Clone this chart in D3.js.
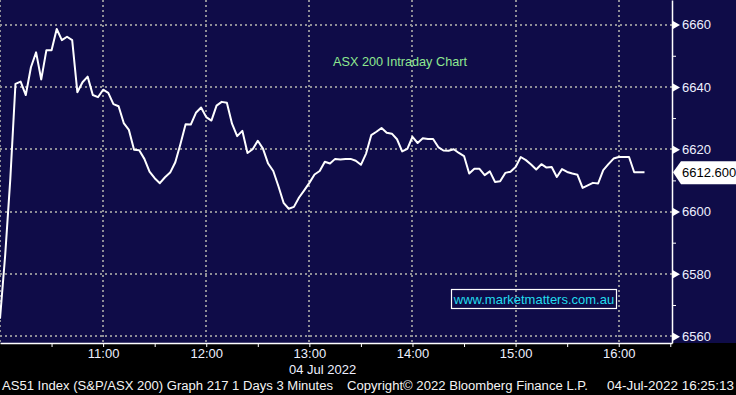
<!DOCTYPE html>
<html>
<head>
<meta charset="utf-8">
<script src="https://cdn.jsdelivr.net/npm/d3@7"></script>
<style>
  body { margin: 0; background: #000; }
  svg { display: block; font-family: "Liberation Sans", Arial, sans-serif; }
</style>
</head>
<body>
<div id="chart"></div>
<script>
//3 minute bars, 04 Jul 2022
let times = [
  "10:00","10:03","10:06","10:09","10:12","10:15","10:18","10:21","10:24","10:27",
  "10:30","10:33","10:36","10:39","10:42","10:45","10:48","10:51","10:54","10:57",
  "11:00","11:03","11:06","11:09","11:12","11:15","11:18","11:21","11:24","11:27",
  "11:30","11:33","11:36","11:39","11:42","11:45","11:48","11:51","11:54","11:57",
  "12:00","12:03","12:06","12:09","12:12","12:15","12:18","12:21","12:24","12:27",
  "12:30","12:33","12:36","12:39","12:42","12:45","12:48","12:51","12:54","12:57",
  "13:00","13:03","13:06","13:09","13:12","13:15","13:18","13:21","13:24","13:27",
  "13:30","13:33","13:36","13:39","13:42","13:45","13:48","13:51","13:54","13:57",
  "14:00","14:03","14:06","14:09","14:12","14:15","14:18","14:21","14:24","14:27",
  "14:30","14:33","14:36","14:39","14:42","14:45","14:48","14:51","14:54","14:57",
  "15:00","15:03","15:06","15:09","15:12","15:15","15:18","15:21","15:24","15:27",
  "15:30","15:33","15:36","15:39","15:42","15:45","15:48","15:51","15:54","15:57",
  "16:00","16:03","16:06","16:09","16:12","16:15"
];

let prices = [
  6565.6, 6585.9, 6610.5, 6641.0, 6641.7, 6637.4, 6646.3, 6651.1, 6642.4, 6651.8,
  6651.8, 6658.6, 6655.0, 6656.1, 6655.0, 6638.3, 6641.5, 6643.3, 6637.4, 6636.7,
  6639.1, 6638.1, 6634.5, 6633.8, 6628.4, 6626.2, 6619.8, 6619.7, 6616.9, 6612.8,
  6610.7, 6609.1, 6611.0, 6612.5, 6615.8, 6621.7, 6628.0, 6627.9, 6631.7, 6633.4,
  6630.3, 6629.2, 6634.0, 6635.2, 6634.9, 6628.2, 6624.2, 6625.9, 6618.8, 6620.0,
  6622.7, 6620.2, 6615.4, 6613.0, 6608.1, 6602.8, 6600.9, 6601.5, 6604.5, 6606.8,
  6609.2, 6611.9, 6613.0, 6616.0, 6615.4, 6616.9, 6616.7, 6616.9, 6616.9, 6616.3,
  6615.0, 6618.6, 6624.5, 6625.6, 6626.8, 6625.3, 6625.0, 6623.2, 6619.3, 6620.1,
  6624.0, 6622.0, 6623.5, 6623.3, 6623.3, 6620.7, 6619.6, 6619.5, 6620.0, 6618.8,
  6617.8, 6612.2, 6613.7, 6613.7, 6611.7, 6612.9, 6609.5, 6609.7, 6612.4, 6612.8,
  6614.3, 6617.5, 6616.5, 6615.1, 6613.5, 6615.2, 6614.1, 6614.3, 6611.1, 6613.6,
  6612.7, 6612.2, 6611.8, 6607.6, 6608.4, 6609.2, 6609.0, 6613.3, 6615.2, 6617.0,
  6617.5, 6617.5, 6617.5, 6612.6, 6612.6, 6612.6
];

//axis ticks
let hourTicks = ["10:00", "11:00", "12:00", "13:00", "14:00", "15:00", "16:00"];
let halfHourTicks = ["10:30", "11:00", "11:30", "12:00", "12:30", "13:00", "13:30",
                     "14:00", "14:30", "15:00", "15:30", "16:00", "16:30"];
let priceTicks = [6560, 6580, 6600, 6620, 6640, 6660];
let minorPriceTicks = [6570, 6590, 6610, 6630, 6650];
let lastPrice = 6612.6;

let width = 736, height = 395;
let plot = {left: 0, right: 672, top: 0, bottom: 343};

let parseTime = d3.timeParse("%H:%M");
let data = times.map(function(t, i) { return {time: parseTime(t), price: prices[i]} });

let svg = d3.select("#chart")
    .append("svg")
    .attr("width", width)
    .attr("height", height);

//backgrounds
svg.append("rect").attr("width", width).attr("height", height).attr("fill", "#000");
svg.append("rect").attr("width", width).attr("height", plot.bottom).attr("fill", "#0f0c48");

//scales
let x = d3.scaleTime()
    .domain([parseTime("10:00"), d3.timeMinute.offset(parseTime("10:00"), 391.5)])
    .range([plot.left, plot.right]);

let y = d3.scaleLinear()
    .domain([6557.8, 6667.9])
    .range([plot.bottom, plot.top]);

//dotted grid, snapped to whole pixels
let grid = svg.append("g")
    .attr("stroke", "#8e8e96")
    .attr("stroke-width", 2)
    .attr("stroke-dasharray", "2,3")
    .attr("shape-rendering", "crispEdges");

grid.selectAll(".h").data(priceTicks).enter()
    .append("line")
    .attr("x1", plot.left).attr("x2", plot.right)
    .attr("y1", function(d) { return Math.round(y(d)) })
    .attr("y2", function(d) { return Math.round(y(d)) });

grid.selectAll(".v").data(hourTicks).enter()
    .append("line")
    .attr("x1", function(d) { return Math.round(x(parseTime(d))) })
    .attr("x2", function(d) { return Math.round(x(parseTime(d))) })
    .attr("y1", plot.top).attr("y2", plot.bottom);

//price line
let line = d3.line()
    .x(function(d) { return x(d.time) })
    .y(function(d) { return y(d.price) });

svg.append("path")
    .datum(data)
    .attr("fill", "none")
    .attr("stroke", "#fff")
    .attr("stroke-width", 2)
    .attr("stroke-linejoin", "round")
    .attr("d", line);

//x axis
let xAxis = svg.append("g")
    .attr("transform", `translate(0,${plot.bottom})`)
    .call(d3.axisBottom(x)
        .tickValues(halfHourTicks.map(parseTime))
        .tickSize(4)
        .tickSizeOuter(0)
        .tickPadding(2)
        .tickFormat(function(d) { return d.getMinutes() === 0 ? d3.timeFormat("%H:%M")(d) : "" }));

xAxis.select(".domain").attr("stroke", "#fff").attr("stroke-width", 1.5);
xAxis.selectAll(".tick line").attr("stroke", "#fff");
xAxis.selectAll(".tick text")
    .attr("fill", "#eef0ff")
    .style("font-size", "13px");

//date under axis
svg.append("text")
    .attr("x", 289)
    .attr("y", 374)
    .attr("fill", "#eef0ff")
    .style("font-size", "13px")
    .text("04 Jul 2022");

//right y axis
let yAxis = svg.append("g")
    .attr("transform", `translate(${plot.right},0)`)
    .call(d3.axisRight(y)
        .tickValues(priceTicks)
        .tickSize(0)
        .tickSizeOuter(0)
        .tickPadding(10)
        .tickFormat(d3.format("d")));

yAxis.select(".domain").attr("stroke", "#fff").attr("stroke-width", 1.5);
yAxis.selectAll(".tick text")
    .attr("fill", "#eef0ff")
    .style("font-size", "13px");

//triangle pointers at major ticks
yAxis.selectAll(".tick").append("path")
    .attr("d", "M1,-4L8,0L1,4Z")
    .attr("fill", "#fff");

//minor ticks
svg.append("g")
    .attr("transform", `translate(${plot.right},0)`)
    .call(d3.axisRight(y).tickValues(minorPriceTicks).tickSize(4).tickFormat(""))
    .call(function(g) {
        g.select(".domain").remove();
        g.selectAll(".tick line").attr("stroke", "#fff");
    });

//last price label
let ly = y(lastPrice);
svg.append("path")
    .attr("d", `M${plot.right + 1},${ly}L${plot.right + 9},${ly - 11}L${width},${ly - 11}L${width},${ly + 12}L${plot.right + 9},${ly + 12}Z`)
    .attr("fill", "#fff");

svg.append("text")
    .attr("x", plot.right + 10)
    .attr("y", ly + 5)
    .attr("fill", "#000")
    .style("font-size", "13px")
    .text(d3.format(".3f")(lastPrice));

//title
svg.append("text")
    .attr("x", 400)
    .attr("y", 66)
    .attr("text-anchor", "middle")
    .attr("fill", "#8ee890")
    .style("font-size", "12.7px")
    .text("ASX 200 Intraday Chart");

//watermark
svg.append("rect")
    .attr("x", 451.5).attr("y", 289.5)
    .attr("width", 165).attr("height", 19)
    .attr("fill", "none")
    .attr("stroke", "#fff")
    .attr("stroke-width", 1.2);

svg.append("text")
    .attr("x", 534)
    .attr("y", 304)
    .attr("text-anchor", "middle")
    .attr("fill", "#22dcee")
    .style("font-size", "13px")
    .text("www.marketmatters.com.au");

//footer
let footer = svg.append("g")
    .attr("fill", "#f4f4f4")
    .style("font-size", "12.5px");

footer.append("text").attr("x", 2).attr("y", 390)
    .attr("textLength", 331).attr("lengthAdjust", "spacingAndGlyphs")
    .text("AS51 Index (S&P/ASX 200) Graph 217 1 Days 3 Minutes");

footer.append("text").attr("x", 347).attr("y", 390)
    .attr("textLength", 241).attr("lengthAdjust", "spacingAndGlyphs")
    .text("Copyright\u00a9 2022 Bloomberg Finance L.P.");

footer.append("text").attr("x", 607).attr("y", 390)
    .attr("textLength", 127).attr("lengthAdjust", "spacingAndGlyphs")
    .text("04-Jul-2022 16:25:13");
</script>
</body>
</html>
